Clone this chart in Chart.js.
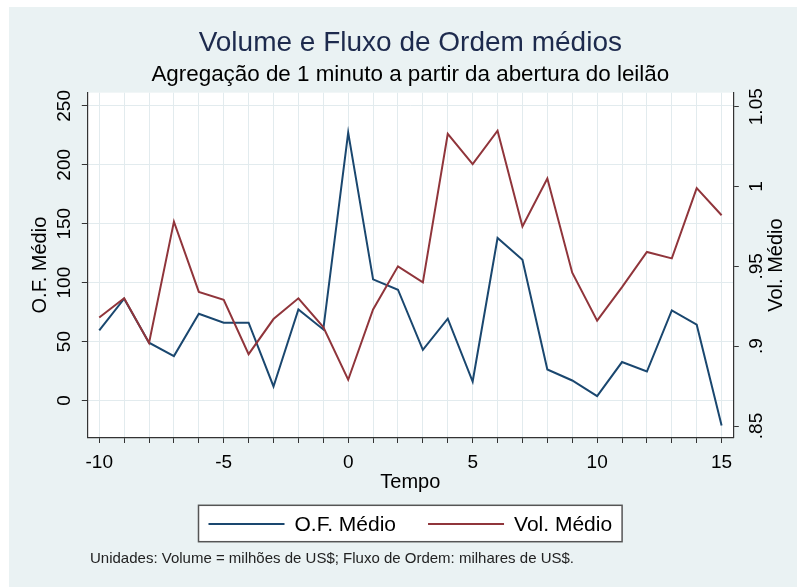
<!DOCTYPE html>
<html>
<head>
<meta charset="utf-8">
<script src="https://cdn.jsdelivr.net/npm/chart.js@4.4.1/dist/chart.umd.min.js"></script>
<style>
    html, body { margin: 0; padding: 0; background: #ffffff; }
    canvas { display: block; }
</style>
</head>
<body>
<canvas id="chart" width="797" height="587"></canvas>
<script>
    // minutes from the auction opening
    const tempo = [-10, -9, -8, -7, -6, -5, -4, -3, -2, -1, 0, 1, 2, 3, 4, 5, 6, 7, 8, 9, 10, 11, 12, 13, 14, 15];
    // O.F. Médio (left axis, milhares de US$)
    const ofMedio = [59.5, 86.4, 49, 37.7, 73.6, 66, 66, 11.9, 77.3, 60.3, 227.4, 102.8, 94, 43, 69.4, 16.1, 137.9, 119.5, 26.3, 17, 3.7, 32.6, 24.6, 76.5, 64.3, -21.2];
    // Vol. Médio (right axis, milhões de US$)
    const volMedio = [0.918, 0.930, 0.902, 0.978, 0.934, 0.929, 0.895, 0.917, 0.930, 0.912, 0.879, 0.923, 0.950, 0.940, 1.033, 1.014, 1.035, 0.975, 1.005, 0.946, 0.916, 0.937, 0.959, 0.955, 0.999, 0.982];
    const xTickLabels = [-10, -5, 0, 5, 10, 15];

    const FONT = "'Liberation Sans', Arial, sans-serif";
    const BG = "#EAF2F3";
    const AXIS = "#333333";
    const GRID = "#E2EBEE";

    function volLabel(v) {
        const s = String(Math.round(v * 100) / 100);
        return s.startsWith("0.") ? s.slice(1) : s;
    }

    const frame = {
        id: "frame",
        beforeDraw(chart) {
            const { ctx, chartArea: a } = chart;
            ctx.save();
            ctx.fillStyle = "#ffffff";
            ctx.fillRect(0, 0, chart.width, chart.height);
            ctx.fillStyle = BG;
            ctx.fillRect(9, 7, chart.width - 9, chart.height - 7);
            ctx.fillStyle = "#ffffff";
            ctx.fillRect(a.left, a.top, a.right - a.left, a.bottom - a.top);
            ctx.restore();
        },
        afterDraw(chart) {
            const { ctx, chartArea: a } = chart;
            const xs = chart.scales.x;
            const yr = chart.scales.y1;
            ctx.save();

            // right axis title, reading upwards like the left one
            ctx.font = "20px " + FONT;
            ctx.fillStyle = "#000000";
            ctx.textAlign = "center";
            ctx.textBaseline = "middle";
            ctx.translate(yr.right - 20.5, (a.top + a.bottom) / 2);
            ctx.rotate(-Math.PI / 2);
            ctx.fillText("Vol. Médio", 0, 0);
            ctx.setTransform(1, 0, 0, 1, 0, 0);

            // legend box
            const items = chart.data.datasets.map((ds) => ({ label: ds.label, color: ds.borderColor }));
            ctx.font = "21px " + FONT;
            const sample = 76, gap = 10, between = 32, margin = 10;
            const widths = items.map((it) => sample + gap + ctx.measureText(it.label).width);
            const total = widths.reduce((s, w) => s + w, 0) + between * (items.length - 1);
            let left = (a.left + a.right) / 2 - total / 2;
            const top = xs.bottom + 7.8;
            const h = 36.4;
            const mid = top + 18.6;
            ctx.fillStyle = "#ffffff";
            ctx.fillRect(left - margin, top, total + margin * 2, h);
            ctx.strokeStyle = "#555555";
            ctx.lineWidth = 1.5;
            ctx.strokeRect(left - margin, top, total + margin * 2, h);
            items.forEach((it, i) => {
                ctx.strokeStyle = it.color;
                ctx.lineWidth = 2;
                ctx.beginPath();
                ctx.moveTo(left, mid);
                ctx.lineTo(left + sample, mid);
                ctx.stroke();
                ctx.fillStyle = "#000000";
                ctx.textAlign = "left";
                ctx.textBaseline = "middle";
                ctx.fillText(it.label, left + sample + gap, mid + 1);
                left += widths[i] + between;
            });

            // footnote
            ctx.font = "15px " + FONT;
            ctx.fillStyle = "#222222";
            ctx.textAlign = "left";
            ctx.textBaseline = "middle";
            ctx.fillText("Unidades: Volume = milhões de US$; Fluxo de Ordem: milhares de US$.", 90, 559);
            ctx.restore();
        }
    };

    new Chart(document.getElementById("chart"), {
        type: "line",
        data: {
            datasets: [{
                label: "O.F. Médio",
                data: tempo.map((t, i) => ({ x: t, y: ofMedio[i] })),
                yAxisID: "y",
                borderColor: "#1A476F",
                backgroundColor: "#1A476F",
                borderWidth: 2,
                pointRadius: 0,
                tension: 0,
                order: 1
            }, {
                label: "Vol. Médio",
                data: tempo.map((t, i) => ({ x: t, y: volMedio[i] })),
                yAxisID: "y1",
                borderColor: "#90353B",
                backgroundColor: "#90353B",
                borderWidth: 2,
                pointRadius: 0,
                tension: 0,
                order: 0
            }]
        },
        options: {
            responsive: false,
            animation: false,
            events: [],
            layout: { padding: { left: 9, top: 7, right: 0, bottom: 89.5 } },
            plugins: {
                legend: { display: false },
                tooltip: { enabled: false },
                title: {
                    display: true,
                    fullSize: false,
                    text: "Volume e Fluxo de Ordem médios",
                    color: "#1D2A4D",
                    font: { family: FONT, size: 28, weight: "normal", lineHeight: 1.2 },
                    padding: { top: 19.2, bottom: 0 }
                },
                subtitle: {
                    display: true,
                    fullSize: false,
                    text: "Agregação de 1 minuto a partir da abertura do leilão",
                    color: "#000000",
                    font: { family: FONT, size: 22.4, weight: "normal", lineHeight: 1.2 },
                    padding: { top: 1.5, bottom: 4.5 }
                }
            },
            scales: {
                x: {
                    type: "linear",
                    min: -10.48,
                    max: 15.47,
                    afterFit(scale) { scale.height = 60; },
                    ticks: {
                        stepSize: 1,
                        autoSkip: false,
                        includeBounds: false,
                        maxRotation: 0,
                        color: "#000000",
                        padding: 8,
                        font: { family: FONT, size: 19 },
                        callback: (v) => (xTickLabels.includes(v) ? String(v) : "")
                    },
                    grid: { color: GRID, lineWidth: 1, tickColor: AXIS, tickLength: 5.5, tickWidth: 1 },
                    border: { display: true, color: AXIS, width: 1.2 },
                    title: {
                        display: true,
                        text: "Tempo",
                        color: "#000000",
                        font: { family: FONT, size: 20, lineHeight: 1.2 },
                        padding: { top: 0, bottom: 3 }
                    }
                },
                y: {
                    position: "left",
                    min: -31.4,
                    max: 261.2,
                    afterFit(scale) { scale.width = 78.3; },
                    ticks: {
                        stepSize: 50,
                        includeBounds: false,
                        minRotation: 90,
                        maxRotation: 90,
                        crossAlign: "center",
                        color: "#000000",
                        padding: 1.5,
                        font: { family: FONT, size: 19 }
                    },
                    grid: { color: GRID, lineWidth: 1, tickColor: AXIS, tickLength: 5.5, tickWidth: 1 },
                    border: { display: true, color: AXIS, width: 1.2 },
                    title: {
                        display: true,
                        text: "O.F. Médio",
                        color: "#000000",
                        font: { family: FONT, size: 20, lineHeight: 1.2 },
                        padding: { top: 19, bottom: 0 }
                    }
                },
                y1: {
                    position: "right",
                    min: 0.8428,
                    max: 1.0588,
                    afterFit(scale) { scale.width = 63.7; },
                    ticks: {
                        stepSize: 0.05,
                        includeBounds: false,
                        minRotation: 90,
                        maxRotation: 90,
                        crossAlign: "center",
                        color: "#000000",
                        padding: -0.5,
                        font: { family: FONT, size: 19 },
                        callback: (v) => volLabel(v)
                    },
                    grid: { drawOnChartArea: false, tickColor: AXIS, tickLength: 5.5, tickWidth: 1 },
                    border: { display: true, color: AXIS, width: 1.2 }
                }
            }
        },
        plugins: [frame]
    });
</script>
</body>
</html>
